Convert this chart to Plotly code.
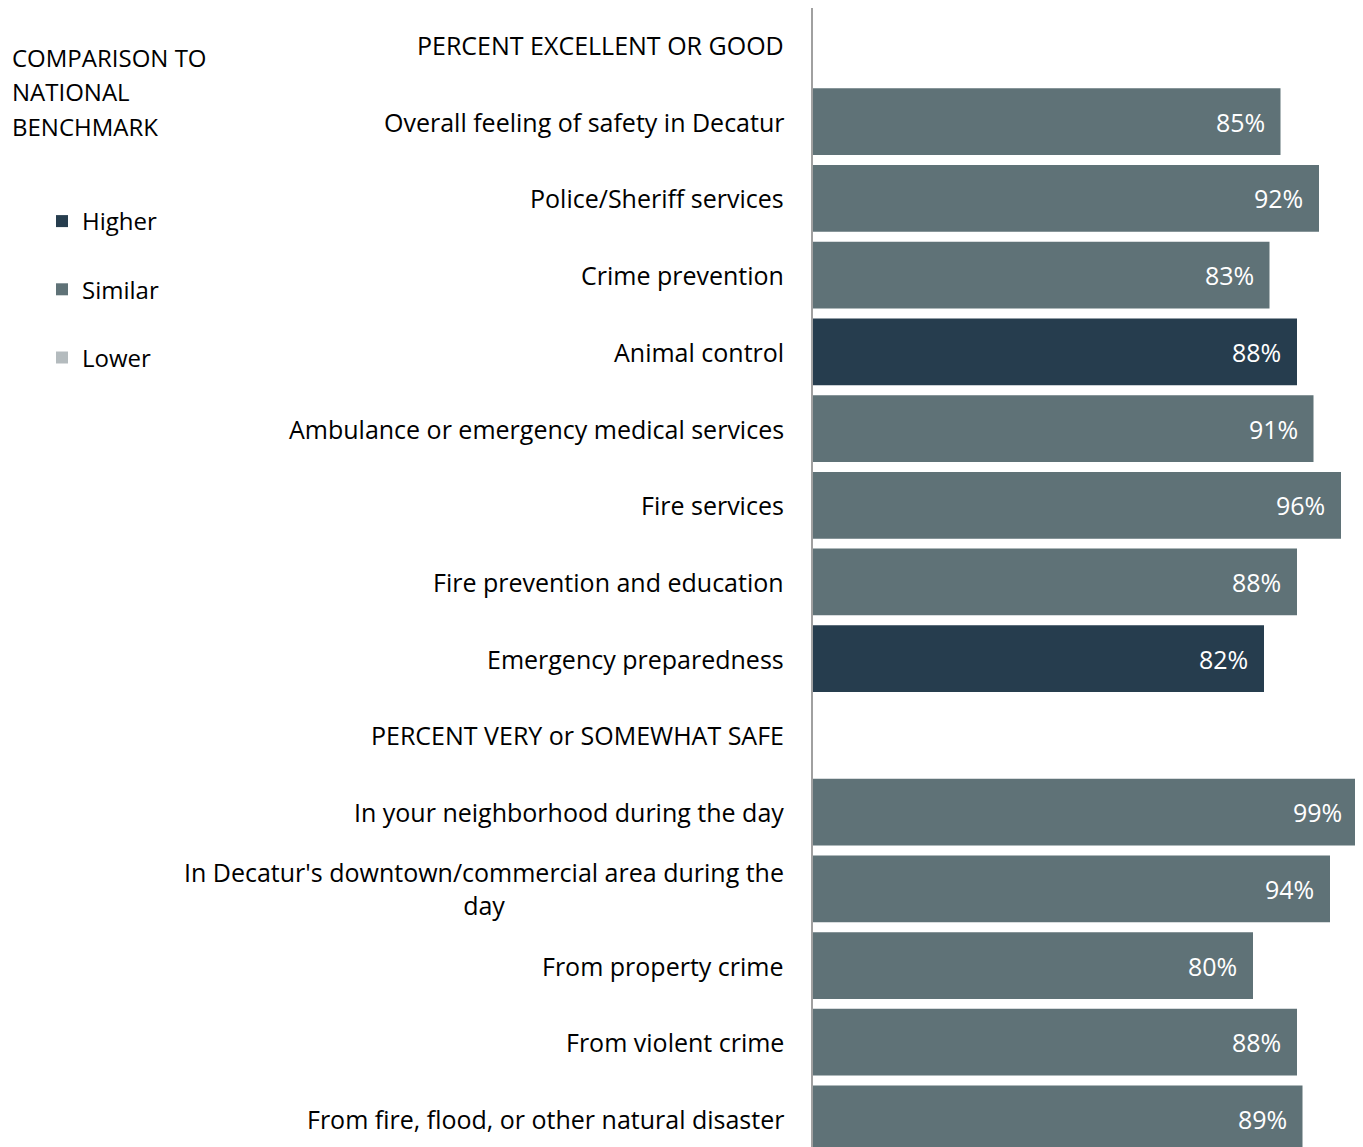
import plotly.graph_objects as go

# ---- data ----
categories = [
    "PERCENT EXCELLENT OR GOOD",
    "Overall feeling of safety in Decatur",
    "Police/Sheriff services",
    "Crime prevention",
    "Animal control",
    "Ambulance or emergency medical services",
    "Fire services",
    "Fire prevention and education",
    "Emergency preparedness",
    "PERCENT VERY or SOMEWHAT SAFE",
    "In your neighborhood during the day",
    "In Decatur's downtown/commercial area during the<br>day",
    "From property crime",
    "From violent crime",
    "From fire, flood, or other natural disaster",
]
values = [None, 85, 92, 83, 88, 91, 96, 88, 82, None, 99, 94, 80, 88, 89]
comparison = ["", "Similar", "Similar", "Similar", "Higher", "Similar", "Similar", "Similar",
              "Higher", "", "Similar", "Similar", "Similar", "Similar", "Similar"]
groups = ["Higher", "Similar", "Lower"]
colors = {"Higher": "#263d4e", "Similar": "#5f7277", "Lower": "#b4bbbe"}
legend_title_lines = ["COMPARISON TO", "NATIONAL", "BENCHMARK"]

FONT = "Open Sans"
FS = 25

# page has an 8px body margin; figure coordinates = page coordinates - 8
OFF = 8
W, H = 1363 - OFF, 1147 - OFF
L, R, T, B = 813 - OFF, 0, 0, 0
pw, ph = W - L - R, H - T - B
ROW = 76.71
top_units = (45 - OFF) / ROW
y_top = -top_units
y_bot = y_top + ph / ROW

fig = go.Figure()
pos = list(range(len(categories)))
for g in groups:
    ys = [p for p, c in zip(pos, comparison) if c == g]
    xs = [v for v, c in zip(values, comparison) if c == g]
    if not ys:
        ys, xs = [0], [None]
    fig.add_trace(go.Bar(
        x=xs, y=ys, orientation="h", name=g,
        marker=dict(color=colors[g], line=dict(width=0)),
        width=0.87, legendgroup=g, showlegend=True,
        hoverinfo="skip",
    ))

annotations = []
for p, cat in zip(pos, categories):
    annotations.append(dict(
        x=0, y=p, xref="x", yref="y", text=cat, showarrow=False,
        xanchor="right", yanchor="middle", align="center", xshift=-27,
        font=dict(family=FONT, size=FS, color="#000000"),
    ))
for p, v in zip(pos, values):
    if v is None:
        continue
    annotations.append(dict(
        x=v, y=p, xref="x", yref="y", text=f"{v}%", showarrow=False,
        xanchor="right", yanchor="middle", xshift=-14,
        font=dict(family=FONT, size=FS, color="white"),
    ))
for i, line in enumerate(legend_title_lines):
    px_x, px_y = 10 - OFF, 57 - OFF + i * 34.5
    annotations.append(dict(
        x=(px_x - L) / pw, y=1 - (px_y - T) / ph, xref="paper", yref="paper",
        text=line, showarrow=False, xanchor="left", yanchor="middle",
        font=dict(family=FONT, size=24, color="#000000"),
    ))

fig.update_layout(
    width=W, height=H,
    margin=dict(l=L, r=R, t=T, b=B, pad=0),
    plot_bgcolor="white", paper_bgcolor="white",
    barmode="overlay",
    showlegend=True,
    legend=dict(
        x=(42 - OFF - L) / pw, y=1 - (199 - OFF - T) / ph, xanchor="left", yanchor="top",
        font=dict(family=FONT, size=24, color="#000000"),
        tracegroupgap=34, itemwidth=30, bgcolor="rgba(0,0,0,0)",
        traceorder="grouped",
    ),
    xaxis=dict(range=[0, 100], visible=False, fixedrange=True),
    yaxis=dict(range=[y_bot, y_top], showticklabels=False, showgrid=False,
               zeroline=False, showline=True, linecolor="#a0a0a0", linewidth=2,
               ticks=""),
    annotations=annotations,
    font=dict(family=FONT),
)

fig.write_html("out.html")
